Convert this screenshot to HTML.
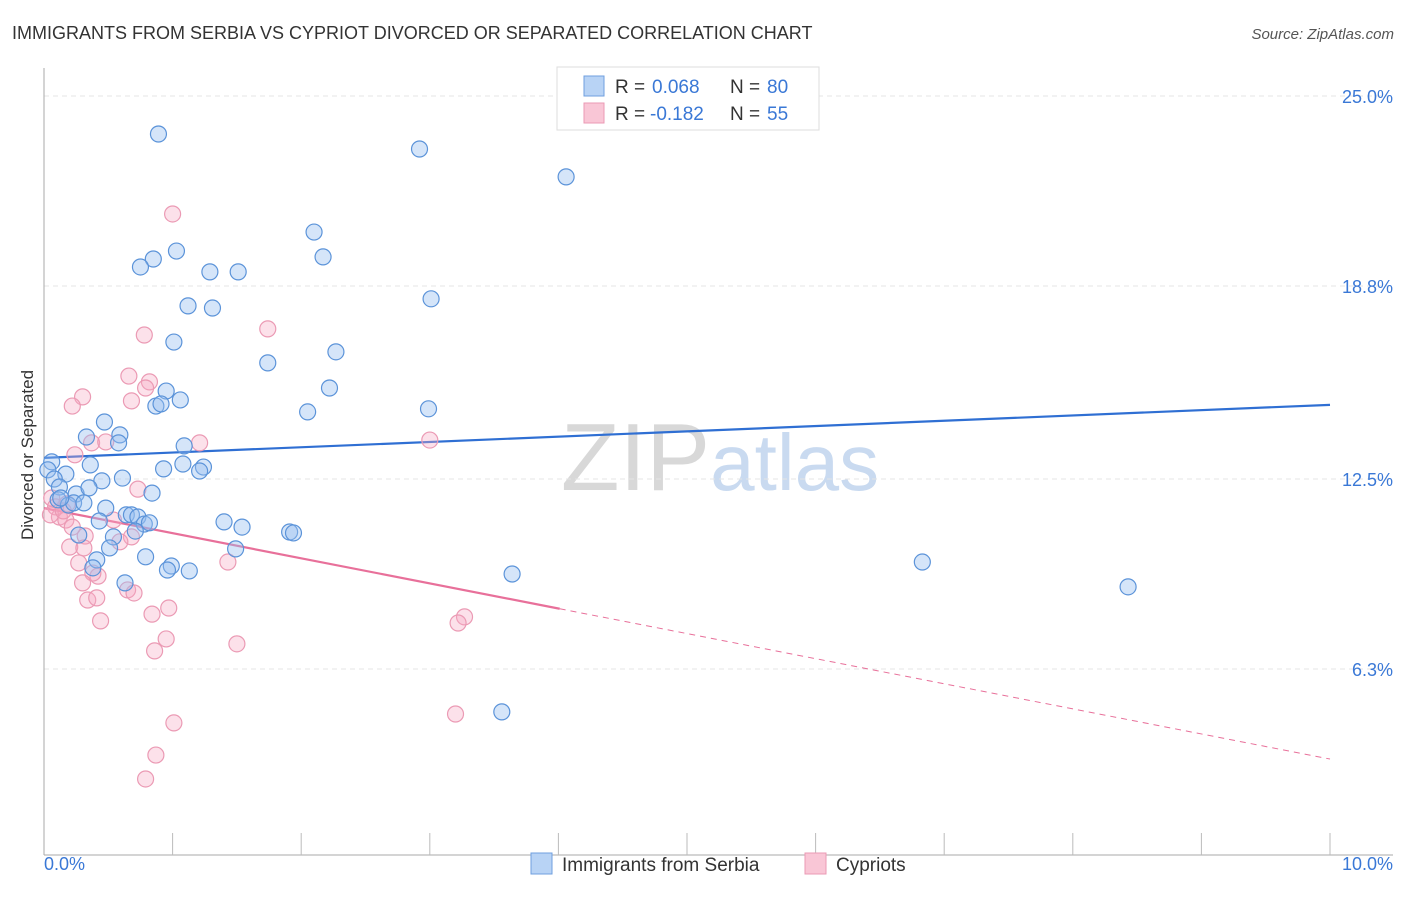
<!DOCTYPE html>
<html><head><meta charset="utf-8"><style>
body{margin:0;background:#fff;font-family:"Liberation Sans",sans-serif;}
svg text{font-family:"Liberation Sans",sans-serif;}
</style></head><body>
<svg id="chart" width="1406" height="892" xmlns="http://www.w3.org/2000/svg">
<text x="12" y="39" font-size="18" fill="#333">IMMIGRANTS FROM SERBIA VS CYPRIOT DIVORCED OR SEPARATED CORRELATION CHART</text>
<text x="1394" y="39" font-size="15" fill="#555" text-anchor="end" font-style="italic">Source: ZipAtlas.com</text>
<text x="720" y="490" font-size="96" fill="#ddd" text-anchor="middle" font-family="Liberation Serif"><tspan fill="#d8d8d8">ZIP</tspan><tspan fill="#c9daf0" font-family="Liberation Sans" font-size="80">atlas</tspan></text>
<text transform="translate(33,455) rotate(-90)" font-size="17" fill="#333" text-anchor="middle">Divorced or Separated</text>
<g id="grid"></g><g id="axes"></g><g id="trends"></g><g id="pts"></g>
<g>
<rect x="557" y="67" width="262" height="63" fill="#fff" stroke="#ddd"/>
<rect x="584" y="76" width="20" height="20" fill="#b8d3f5" stroke="#6f9fdf"/>
<rect x="584" y="103" width="20" height="20" fill="#f9c6d6" stroke="#eb9ab4"/>
<text x="615" y="93" font-size="19" fill="#333">R =</text>
<text x="652" y="93" font-size="19" fill="#3a78d6">0.068</text>
<text x="730" y="93" font-size="19" fill="#333">N =</text>
<text x="767" y="93" font-size="19" fill="#3a78d6">80</text>
<text x="615" y="120" font-size="19" fill="#333">R =</text>
<text x="650" y="120" font-size="19" fill="#3a78d6">-0.182</text>
<text x="730" y="120" font-size="19" fill="#333">N =</text>
<text x="767" y="120" font-size="19" fill="#3a78d6">55</text>
</g>
<g>
<rect x="531" y="853" width="21" height="21" fill="#b8d3f5" stroke="#6f9fdf"/>
<text x="562" y="871" font-size="19" fill="#333">Immigrants from Serbia</text>
<rect x="805" y="853" width="21" height="21" fill="#f9c6d6" stroke="#eb9ab4"/>
<text x="836" y="871" font-size="19" fill="#333">Cypriots</text>
</g>
</svg>
<script>
const yTicks=[25.0,18.8,12.5,6.3];
const yTickLabels=["25.0%","18.8%","12.5%","6.3%"];
const xTickLabels=["0.0%","10.0%"];
const serbiaX=[.89,2.92,4.06,2.10,1.03,.85,.75,2.17,1.29,1.51,3.01,1.12,1.31,1.01,2.27,1.74,2.22,.95,1.06,.87,.91,2.05,2.99,.47,.59,.33,.58,1.09,.36,.06,.03,.93,1.08,1.24,1.21,.61,.17,.08,.12,.45,.25,.35,.84,.11,.19,.23,.31,.48,.13,.43,.64,.68,.73,.78,.82,1.40,1.54,.27,.54,.71,1.91,1.94,1.49,.51,.79,.41,.99,.38,.96,1.13,3.64,.63,6.83,8.43,3.56];
const serbiaY=[23.76,23.27,22.36,20.56,19.94,19.68,19.42,19.75,19.26,19.26,18.38,18.15,18.08,16.97,16.65,16.29,15.47,15.37,15.08,14.88,14.95,14.69,14.79,14.36,13.94,13.87,13.68,13.58,12.96,13.06,12.80,12.83,12.99,12.89,12.76,12.53,12.66,12.50,12.24,12.44,12.01,12.21,12.04,11.82,11.65,11.72,11.72,11.55,11.88,11.13,11.33,11.33,11.26,11.03,11.07,11.10,10.93,10.67,10.61,10.80,10.77,10.74,10.22,10.25,9.96,9.86,9.66,9.60,9.53,9.50,9.40,9.11,9.79,8.98,4.90];
const cypX=[1.0,1.74,.78,.66,.82,.30,.22,.68,.79,1.21,.37,.48,3.00,.24,.73,.06,.09,.18,.12,.05,.17,.22,.15,.32,.54,.68,.59,.20,.31,.27,1.43,.42,.38,.30,.65,.70,.34,.41,.97,.84,.44,3.27,3.22,.95,1.50,.86,1.01,.87,.79,3.20];
const cypY=[21.15,17.40,17.20,15.86,15.67,15.18,14.88,15.05,15.47,13.68,13.68,13.71,13.77,13.29,12.17,11.88,11.59,11.69,11.26,11.33,11.16,10.93,11.46,10.64,11.16,10.61,10.45,10.28,10.25,9.76,9.79,9.33,9.43,9.11,8.88,8.78,8.55,8.62,8.29,8.09,7.87,8.00,7.80,7.28,7.12,6.89,4.54,3.49,2.71,4.83];
const serbiaTrend=[13.19,14.92];
const cypTrend=[11.55,3.36];
const cypSolidEnd=4.01;
const NS="http://www.w3.org/2000/svg";
const X=v=>44+v*128.6, Y=v=>862-v*30.64;
function mk(t,a,p){const e=document.createElementNS(NS,t);for(const k in a)e.setAttribute(k,a[k]);p.appendChild(e);return e;}
const grid=document.getElementById('grid'),axes=document.getElementById('axes'),tr=document.getElementById('trends'),pts=document.getElementById('pts');
yTicks.forEach((t,i)=>{
const l=mk('line',{x1:44,x2:1393,y1:Y(t),y2:Y(t),stroke:'#e4e4e4','stroke-dasharray':'5,4'},grid);


const tx=mk('text',{x:1393,y:Y(t)+7,'font-size':18,fill:'#3a78d6','text-anchor':'end'},axes);tx.textContent=yTickLabels[i];


});
mk('line',{x1:44,x2:44,y1:68,y2:855,stroke:'#aaa'},axes);
mk('line',{x1:44,x2:1393,y1:855,y2:855,stroke:'#aaa'},axes);
for(let i=1;i<=10;i++){const t=mk('line',{x1:X(i),x2:X(i),y1:833,y2:855,stroke:'#bbb'},axes);

}
[[0,'start',44],[10,'end',1393]].forEach((d,i)=>{const t=mk('text',{x:d[2],y:870,'font-size':18,fill:'#3a78d6','text-anchor':d[1]},axes);t.textContent=xTickLabels[i];

});
const bl=mk('line',{x1:X(0),x2:X(10),y1:Y(serbiaTrend[0]),y2:Y(serbiaTrend[1]),stroke:'#2f6fd3','stroke-width':2.2},tr);


const cy=x=>cypTrend[0]+(cypTrend[1]-cypTrend[0])*x/10;
const pl=mk('line',{x1:X(0),x2:X(cypSolidEnd),y1:Y(cypTrend[0]),y2:Y(cy(cypSolidEnd)),stroke:'#e8709a','stroke-width':2.2},tr);


const pd=mk('line',{x1:X(cypSolidEnd),x2:X(10),y1:Y(cy(cypSolidEnd)),y2:Y(cypTrend[1]),stroke:'#e8709a','stroke-width':1,'stroke-dasharray':'6,5'},tr);


cypX.forEach((x,i)=>{const c=mk('circle',{cx:X(x),cy:Y(cypY[i]),r:8,fill:'rgba(245,170,195,0.35)',stroke:'#eb9ab4','stroke-width':1.2},pts);

});
serbiaX.forEach((x,i)=>{const c=mk('circle',{cx:X(x),cy:Y(serbiaY[i]),r:8,fill:'rgba(150,190,240,0.4)',stroke:'#5b93d9','stroke-width':1.2},pts);

});
</script>
</body></html>
